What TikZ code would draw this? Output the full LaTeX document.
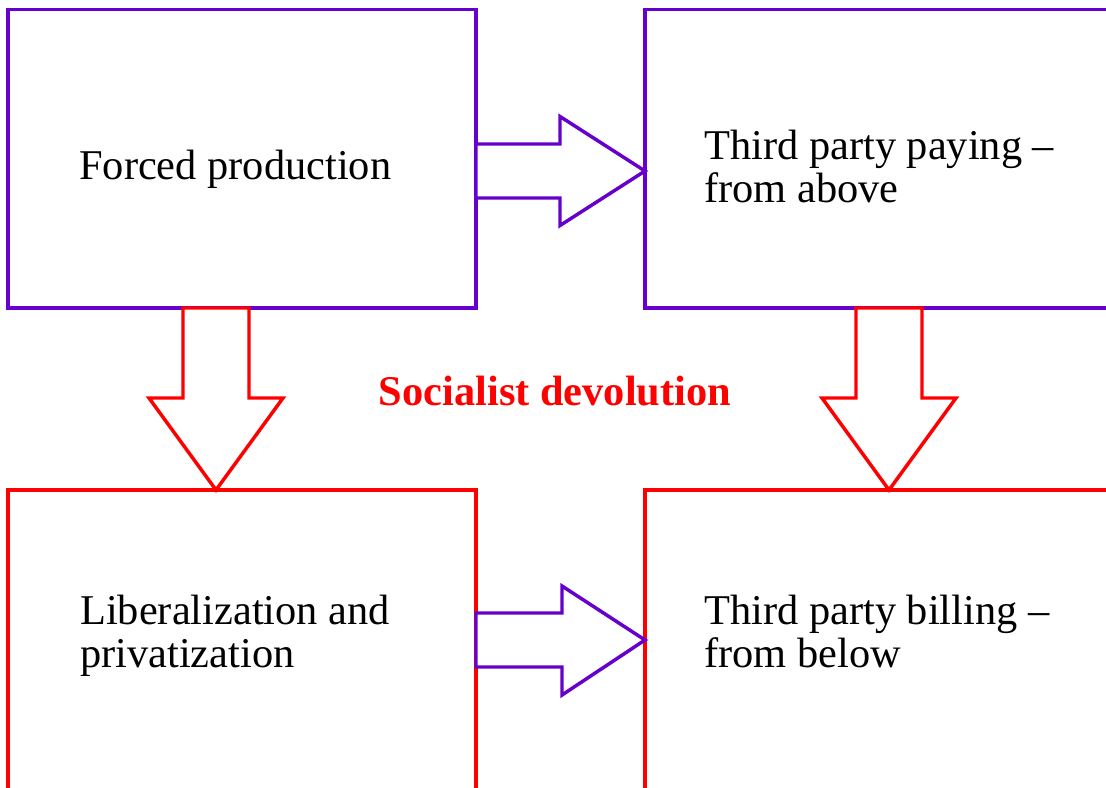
\documentclass[tikz,border=0pt]{standalone}
\usepackage{fontspec}
\setmainfont{Liberation Serif}
\definecolor{boxpurple}{RGB}{102,0,204}
\definecolor{boxred}{RGB}{255,0,0}
\tikzset{
  px/.style={x=0.75pt,y=-0.75pt},
  panel/.style={line width=2.6pt,fill=none,inner sep=0pt,outer sep=0pt,anchor=north west},
  blockarrow/.style={line width=2.6pt,fill=white,line join=miter},
  lbl/.style={font=\fontsize{31.8pt}{32.25pt}\selectfont,anchor=base west,inner sep=0pt,align=left},
}
\begin{document}
\begin{tikzpicture}[px]
\useasboundingbox (0,0) rectangle (1106,788);
% boxes
\node[panel,draw=boxpurple,minimum width=468*0.75pt,minimum height=298.5*0.75pt] (tl) at (8,9.5) {};
\node[panel,draw=boxpurple,minimum width=480*0.75pt,minimum height=298.5*0.75pt] (tr) at (645,9.5) {};
\node[panel,draw=boxred,minimum width=468*0.75pt,minimum height=320*0.75pt] (bl) at (8,490) {};
\node[panel,draw=boxred,minimum width=480*0.75pt,minimum height=320*0.75pt] (br) at (645,490) {};
% texts
\node[lbl] (t1) at (79,180) {Forced production};
\node[lbl] (t2) at (704,203) {Third party paying --\\from above};
\node[lbl] (t3) at (80,667) {Liberalization and\\privatization};
\node[lbl] (t4) at (704,667) {Third party billing --\\from below};
\node[lbl,font=\fontsize{31.8pt}{32.25pt}\selectfont\bfseries,text=boxred,anchor=base] (mid) at (555,405) {Socialist devolution};
% block arrows
\draw[blockarrow,draw=boxpurple] (tl.east |- 0,144) -- (560,144) -- (560,116.5) -- (tr.west |- 0,171) -- (560,225.5) -- (560,198) -- (tl.east |- 0,198) -- cycle;
\draw[blockarrow,draw=boxpurple] (bl.east |- 0,613) -- (562,613) -- (562,586) -- (br.west |- 0,640) -- (562,695) -- (562,667) -- (bl.east |- 0,667) -- cycle;
\draw[blockarrow,draw=boxred] (183,0 |- tl.south) -- (183,398) -- (149,398) -- (216,0 |- bl.north) -- (283,398) -- (249,398) -- (249,0 |- tl.south) -- cycle;
\draw[blockarrow,draw=boxred] (856,0 |- tr.south) -- (856,398) -- (822,398) -- (889,0 |- br.north) -- (956,398) -- (922,398) -- (922,0 |- tr.south) -- cycle;
\end{tikzpicture}
\end{document}
